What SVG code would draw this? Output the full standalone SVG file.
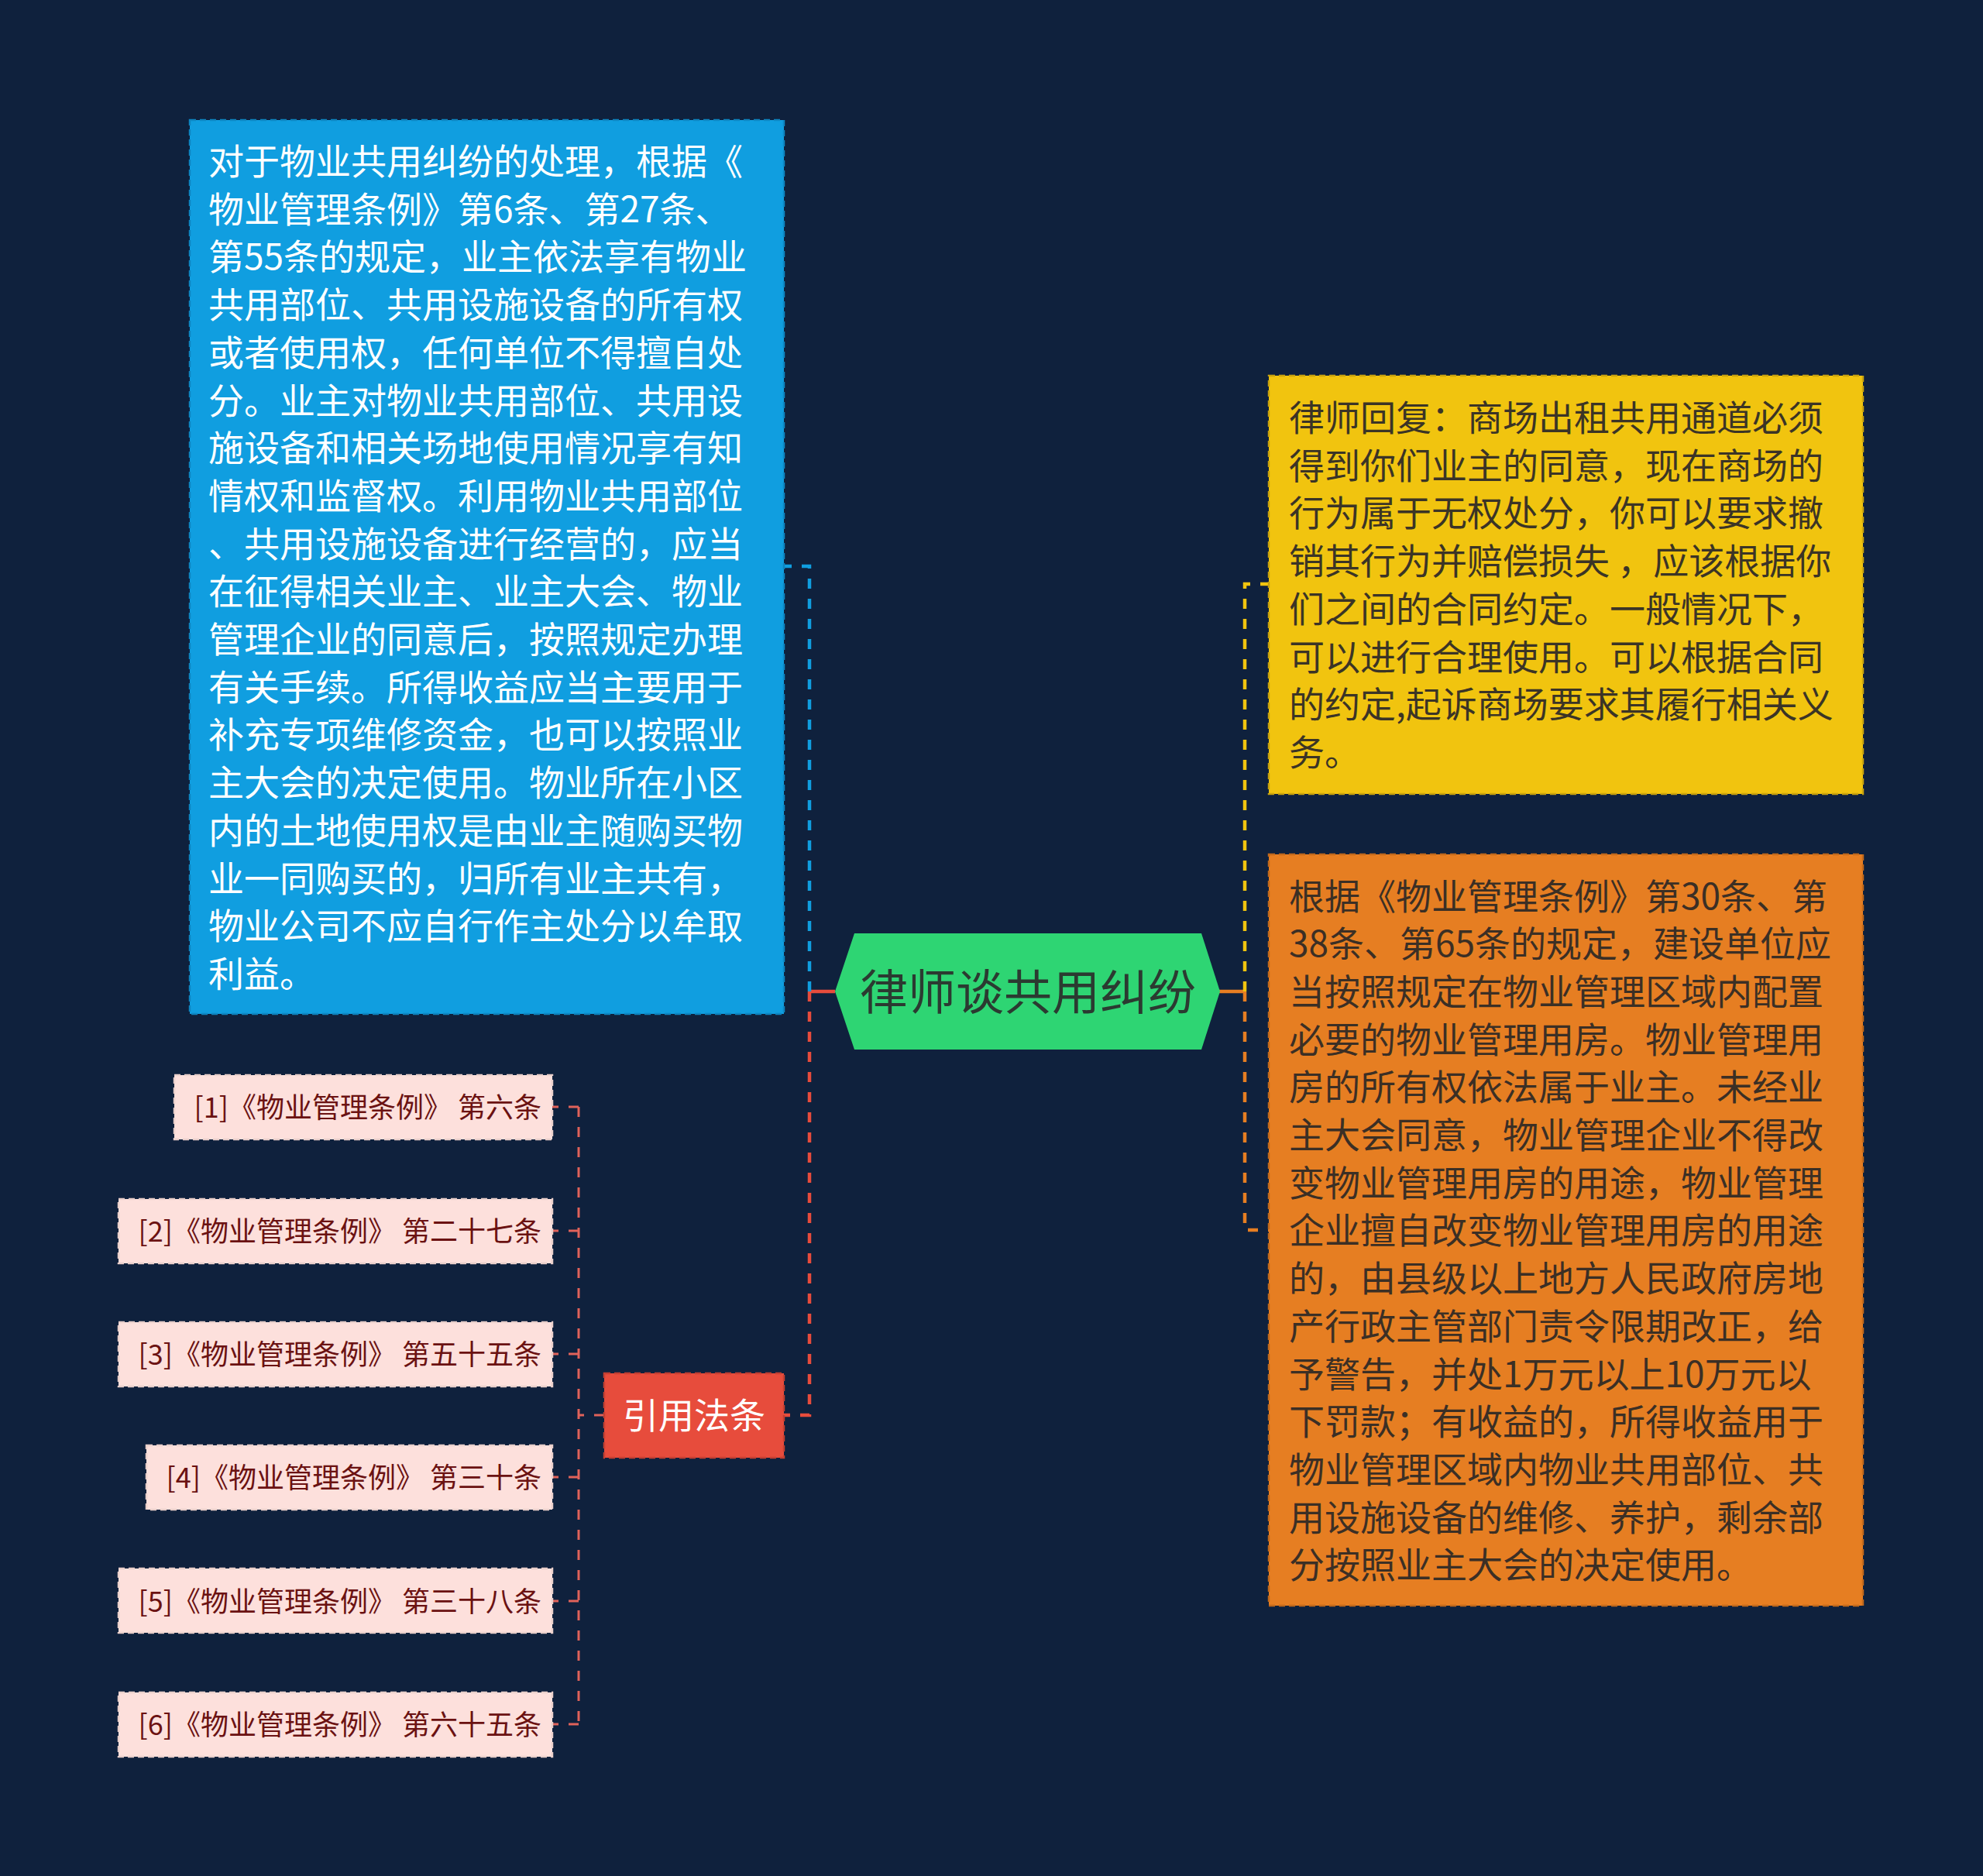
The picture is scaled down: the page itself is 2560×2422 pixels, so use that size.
<svg xmlns="http://www.w3.org/2000/svg" width="2560" height="2422" viewBox="0 0 2560 2422">
<style>
.t{font-family:"Noto Sans CJK SC","Noto Sans",sans-serif;}
.body{font-size:46px;}
.ref{font-size:36px;fill:#6b1212;}
.conn{fill:none;stroke-width:4.5;stroke-dasharray:13 13;}
.sub{fill:none;stroke:#e0625a;stroke-width:3;stroke-dasharray:13 13;}
.box{stroke-width:2.5;stroke-dasharray:8 5;}
</style>
<rect x="0" y="0" width="2560" height="2422" fill="#0f213d"/>
<g id="connectors">
<line x1="1078" y1="1280" x2="1045" y2="1280" stroke="#e74c3c" stroke-width="4.5"/>
<path class="conn" stroke="#109ee0" d="M1045,1280 V731 H1012"/>
<path class="conn" stroke="#e74c3c" d="M1045,1280 V1827 H1012"/>
<line x1="1574" y1="1280" x2="1607" y2="1280" stroke="#e67e22" stroke-width="4.5"/>
<path class="conn" stroke="#f1c40f" d="M1607,1280 V754 H1638"/>
<path class="conn" stroke="#e67e22" d="M1607,1280 V1588 H1638"/>
<path class="sub" d="M780,1827 H747"/>
<path class="sub" d="M747,1429 V2226"/>
<path class="sub" d="M747,1429 H713"/>
<path class="sub" d="M747,1589 H713"/>
<path class="sub" d="M747,1748 H713"/>
<path class="sub" d="M747,1907 H713"/>
<path class="sub" d="M747,2067 H713"/>
<path class="sub" d="M747,2226 H713"/>
</g>
<g id="root">
<polygon points="1078,1280 1103,1205 1551,1205 1575,1280 1551,1355 1103,1355" fill="#2ed573"/>
<text class="t" x="1327" y="1304" font-size="62" fill="#2b3a31" text-anchor="middle">律师谈共用纠纷</text>
</g>
<g id="node-blue">
<rect class="box" x="245" y="155" width="767" height="1154" fill="#109ee0" stroke="#0d86c2"/>
<text class="t body" fill="#ffffff">
<tspan x="269" y="225">对于物业共用纠纷的处理，根据《</tspan>
<tspan x="269" dy="61.7">物业管理条例》第6条、第27条、</tspan>
<tspan x="269" dy="61.7">第55条的规定，业主依法享有物业</tspan>
<tspan x="269" dy="61.7">共用部位、共用设施设备的所有权</tspan>
<tspan x="269" dy="61.7">或者使用权，任何单位不得擅自处</tspan>
<tspan x="269" dy="61.7">分。业主对物业共用部位、共用设</tspan>
<tspan x="269" dy="61.7">施设备和相关场地使用情况享有知</tspan>
<tspan x="269" dy="61.7">情权和监督权。利用物业共用部位</tspan>
<tspan x="269" dy="61.7">、共用设施设备进行经营的，应当</tspan>
<tspan x="269" dy="61.7">在征得相关业主、业主大会、物业</tspan>
<tspan x="269" dy="61.7">管理企业的同意后，按照规定办理</tspan>
<tspan x="269" dy="61.7">有关手续。所得收益应当主要用于</tspan>
<tspan x="269" dy="61.7">补充专项维修资金，也可以按照业</tspan>
<tspan x="269" dy="61.7">主大会的决定使用。物业所在小区</tspan>
<tspan x="269" dy="61.7">内的土地使用权是由业主随购买物</tspan>
<tspan x="269" dy="61.7">业一同购买的，归所有业主共有，</tspan>
<tspan x="269" dy="61.7">物业公司不应自行作主处分以牟取</tspan>
<tspan x="269" dy="61.7">利益。</tspan>
</text>
</g>
<g id="node-yellow">
<rect class="box" x="1638" y="485" width="767" height="540" fill="#f1c40f" stroke="#c9a30d"/>
<text class="t body" fill="#3b3426" xml:space="preserve"><tspan x="1664" y="556">律师回复：商场出租共用通道必须</tspan><tspan x="1664" dy="61.7">得到你们业主的同意，现在商场的</tspan><tspan x="1664" dy="61.7">行为属于无权处分，你可以要求撤</tspan><tspan x="1664" dy="61.7">销其行为并赔偿损失 ，应该根据你</tspan><tspan x="1664" dy="61.7">们之间的合同约定。一般情况下，</tspan><tspan x="1664" dy="61.7">可以进行合理使用。可以根据合同</tspan><tspan x="1664" dy="61.7">的约定,起诉商场要求其履行相关义</tspan><tspan x="1664" dy="61.7">务。</tspan></text>
</g>
<g id="node-orange">
<rect class="box" x="1638" y="1103" width="767" height="970" fill="#e67e22" stroke="#c2691b"/>
<text class="t body" fill="#3b2f25">
<tspan x="1664" y="1173.5">根据《物业管理条例》第30条、第</tspan>
<tspan x="1664" dy="61.7">38条、第65条的规定，建设单位应</tspan>
<tspan x="1664" dy="61.7">当按照规定在物业管理区域内配置</tspan>
<tspan x="1664" dy="61.7">必要的物业管理用房。物业管理用</tspan>
<tspan x="1664" dy="61.7">房的所有权依法属于业主。未经业</tspan>
<tspan x="1664" dy="61.7">主大会同意，物业管理企业不得改</tspan>
<tspan x="1664" dy="61.7">变物业管理用房的用途，物业管理</tspan>
<tspan x="1664" dy="61.7">企业擅自改变物业管理用房的用途</tspan>
<tspan x="1664" dy="61.7">的，由县级以上地方人民政府房地</tspan>
<tspan x="1664" dy="61.7">产行政主管部门责令限期改正，给</tspan>
<tspan x="1664" dy="61.7">予警告，并处1万元以上10万元以</tspan>
<tspan x="1664" dy="61.7">下罚款；有收益的，所得收益用于</tspan>
<tspan x="1664" dy="61.7">物业管理区域内物业共用部位、共</tspan>
<tspan x="1664" dy="61.7">用设施设备的维修、养护，剩余部</tspan>
<tspan x="1664" dy="61.7">分按照业主大会的决定使用。</tspan>
</text>
</g>
<g id="node-refs">
<rect class="box" x="780" y="1773" width="232" height="109" fill="#e74c3c" stroke="#c43f31"/>
<text class="t" x="896" y="1844" font-size="46" fill="#ffffff" text-anchor="middle">引用法条</text>
</g>
<g id="ref-1">
<rect class="box" x="225" y="1388" width="488" height="83" fill="#fde0dc" stroke="#ead0cb"/>
<text class="t ref" x="699" y="1443" text-anchor="end" xml:space="preserve">[1]《物业管理条例》 第六条</text>
</g>
<g id="ref-2">
<rect class="box" x="153" y="1548" width="560" height="83" fill="#fde0dc" stroke="#ead0cb"/>
<text class="t ref" x="699" y="1603" text-anchor="end" xml:space="preserve">[2]《物业管理条例》 第二十七条</text>
</g>
<g id="ref-3">
<rect class="box" x="153" y="1707" width="560" height="83" fill="#fde0dc" stroke="#ead0cb"/>
<text class="t ref" x="699" y="1762" text-anchor="end" xml:space="preserve">[3]《物业管理条例》 第五十五条</text>
</g>
<g id="ref-4">
<rect class="box" x="189" y="1866" width="524" height="83" fill="#fde0dc" stroke="#ead0cb"/>
<text class="t ref" x="699" y="1921" text-anchor="end" xml:space="preserve">[4]《物业管理条例》 第三十条</text>
</g>
<g id="ref-5">
<rect class="box" x="153" y="2025" width="560" height="83" fill="#fde0dc" stroke="#ead0cb"/>
<text class="t ref" x="699" y="2081" text-anchor="end" xml:space="preserve">[5]《物业管理条例》 第三十八条</text>
</g>
<g id="ref-6">
<rect class="box" x="153" y="2185" width="560" height="83" fill="#fde0dc" stroke="#ead0cb"/>
<text class="t ref" x="699" y="2240" text-anchor="end" xml:space="preserve">[6]《物业管理条例》 第六十五条</text>
</g>
</svg>
